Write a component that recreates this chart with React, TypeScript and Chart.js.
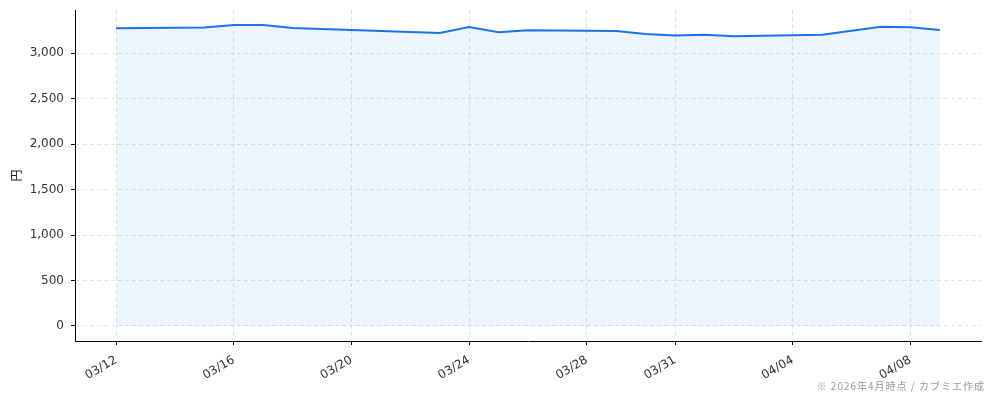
import React, { useEffect, useRef } from 'react';
import { Chart, registerables } from 'chart.js';

Chart.register(...registerables);

// closing prices (yen) by calendar date
const dates = [
  '2026-03-12', '2026-03-15', '2026-03-16', '2026-03-17', '2026-03-18',
  '2026-03-23', '2026-03-24', '2026-03-25', '2026-03-26', '2026-03-29',
  '2026-03-30', '2026-03-31', '2026-04-01', '2026-04-02', '2026-04-05',
  '2026-04-07', '2026-04-08', '2026-04-09',
];
const prices = [
  3275, 3283, 3311, 3311, 3278,
  3223, 3289, 3231, 3253, 3245,
  3212, 3195, 3205, 3187, 3205,
  3293, 3286, 3256,
];
const tickDates = [
  '2026-03-12', '2026-03-16', '2026-03-20', '2026-03-24',
  '2026-03-28', '2026-03-31', '2026-04-04', '2026-04-08',
];
const yTicks = [0, 500, 1000, 1500, 2000, 2500, 3000];
const yLabel = '円';
const note = '※ 2026年4月時点 / カブミエ作成';

const DAY = 86400000;
const base = Date.parse(dates[0]);
const dayOf = (d: string) => Math.round((Date.parse(d) - base) / DAY);
const fmtDate = (d: string) => d.slice(5).replace('-', '/');

const App = () => {
  const canvasRef = useRef<HTMLCanvasElement | null>(null);
  const chartRef = useRef<Chart | null>(null);

  useEffect(() => {
    document.body.style.margin = '0';
    if (chartRef.current) chartRef.current.destroy();
    const ctx = canvasRef.current?.getContext('2d');
    if (!ctx) return;

    const points = dates.map((d, i) => ({ x: dayOf(d), y: prices[i] }));
    const xs = points.map((p) => p.x);
    const xMin = Math.min(...xs);
    const xMax = Math.max(...xs);
    const xPad = (xMax - xMin) * 0.05;
    const yMax = Math.max(...prices);
    const yPad = yMax * 0.05;
    const tickPos = tickDates.map(dayOf);

    const gridStyle = {
      color: 'rgba(205,205,222,0.6)',
      tickColor: '#000',
      tickLength: 4,
      tickBorderDash: [],
      tickWidth: 1,
    };
    const borderStyle = { display: true, color: '#000', width: 1, dash: [4, 3] };

    const notePlugin = {
      id: 'note',
      afterDraw(chart: Chart) {
        const c = chart.ctx as any;
        c.save();
        c.font = '10px "Noto Sans CJK JP"';
        c.letterSpacing = '1px';
        c.fillStyle = '#999';
        c.textAlign = 'right';
        c.textBaseline = 'alphabetic';
        c.fillText(note, 985, 390);
        c.restore();
      },
    };

    chartRef.current = new Chart(ctx, {
      type: 'line',
      data: {
        datasets: [
          {
            data: points,
            borderColor: '#1a73e8',
            borderWidth: 2,
            backgroundColor: 'rgba(26,115,232,0.08)',
            fill: 'origin',
            pointRadius: 0,
            tension: 0,
          },
        ],
      },
      options: {
        animation: false,
        responsive: false,
        layout: { padding: { top: 10, right: 13, left: 0, bottom: 0 } },
        plugins: { legend: { display: false }, tooltip: { enabled: false } },
        scales: {
          x: {
            type: 'linear',
            min: xMin - xPad,
            max: xMax + xPad,
            grid: gridStyle,
            border: borderStyle,
            afterBuildTicks: (scale: any) => {
              scale.ticks = tickPos.map((v) => ({ value: v }));
            },
            afterFit: (scale: any) => {
              scale.height = 60;
              scale.paddingLeft = 0;
              scale.paddingRight = 0;
            },
            ticks: {
              minRotation: 30,
              maxRotation: 30,
              autoSkip: false,
              padding: 8,
              color: '#333',
              font: { family: '"DejaVu Sans"', size: 12 },
              callback: (v: any) => {
                const i = tickPos.indexOf(Number(v));
                return i >= 0 ? fmtDate(tickDates[i]) : '';
              },
            },
          },
          y: {
            min: -yPad,
            max: yMax + yPad,
            grid: gridStyle,
            border: borderStyle,
            afterBuildTicks: (scale: any) => {
              scale.ticks = yTicks.map((v) => ({ value: v }));
            },
            afterFit: (scale: any) => {
              scale.width = 75;
              scale.paddingTop = 0;
              scale.paddingBottom = 0;
            },
            title: {
              display: true,
              text: yLabel,
              color: '#222',
              font: { family: '"Noto Sans CJK JP"', size: 12 },
              padding: { top: 9, bottom: 0 },
            },
            ticks: {
              padding: 7,
              color: '#333',
              font: { family: '"DejaVu Sans"', size: 12 },
              callback: (v: any) => Number(v).toLocaleString('en-US'),
            },
          },
        },
      },
      plugins: [notePlugin],
    });

    return () => {
      if (chartRef.current) {
        chartRef.current.destroy();
        chartRef.current = null;
      }
    };
  }, []);

  return (
    <div style={{ position: 'absolute', left: 0, top: 0, width: 994, height: 401 }}>
      <canvas ref={canvasRef} width={994} height={401} style={{ width: 994, height: 401 }}></canvas>
    </div>
  );
};

export default App;
